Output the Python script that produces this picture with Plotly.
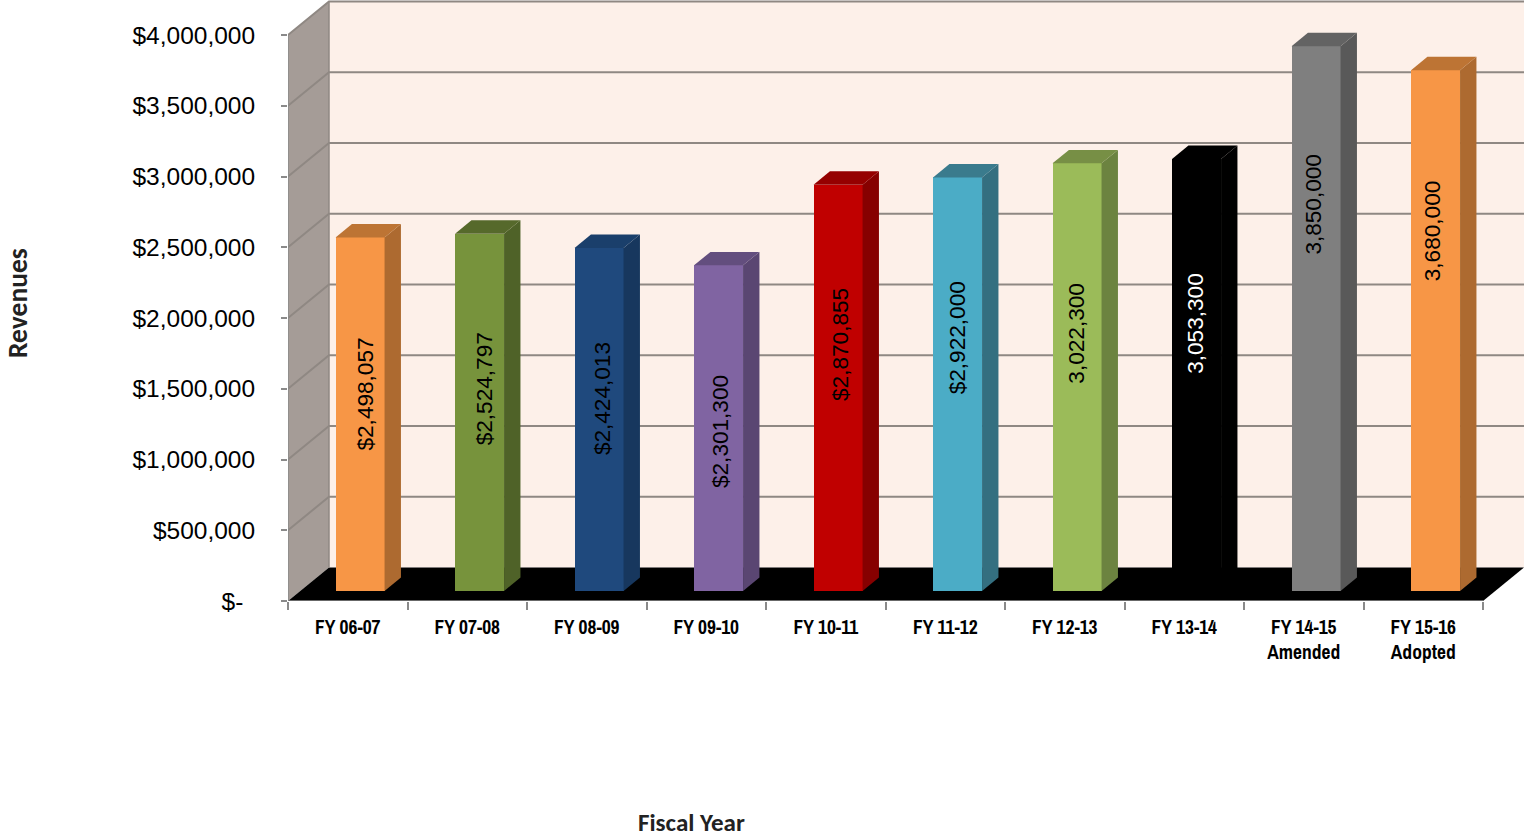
import plotly.graph_objects as go

# Fiscal-year revenue figures
categories = ["FY 06-07", "FY 07-08", "FY 08-09", "FY 09-10", "FY 10-11", "FY 11-12",
              "FY 12-13", "FY 13-14", "FY 14-15<br>Amended", "FY 15-16<br>Adopted"]
revenues = [2498057, 2524797, 2424013, 2301300, 2870855, 2922000, 3022300, 3053300, 3850000, 3680000]
value_labels = ["$2,498,057", "$2,524,797", "$2,424,013", "$2,301,300", "$2,870,855", "$2,922,000",
                "3,022,300", "3,053,300", "3,850,000", "3,680,000"]
axis_values = [0, 500000, 1000000, 1500000, 2000000, 2500000, 3000000, 3500000, 4000000]
axis_labels = ["$-\u00a0\u2009", "$500,000", "$1,000,000", "$1,500,000", "$2,000,000",
               "$2,500,000", "$3,000,000", "$3,500,000", "$4,000,000"]

# Bar colours: front face, side face, top face
face_colors = ["#F79646", "#77933C", "#1F497D", "#8064A2", "#C00000",
               "#4BACC6", "#9BBB59", "#000000", "#7F7F7F", "#F79646"]
side_colors = ["#AD6A30", "#4F6228", "#17375E", "#5A4672", "#860000",
               "#346F80", "#6C8340", "#000000", "#595959", "#AD6A30"]
top_colors = ["#BD7434", "#56692B", "#1A3F6B", "#634E7E", "#950000",
              "#3A7B8D", "#778F45", "#000000", "#636363", "#BD7434"]
label_colors = ["#000000"] * 7 + ["#FFFFFF"] + ["#000000"] * 2
# Distance from the top of each bar down to the start of its rotated label, in pixels
label_drop = [98, 97, 92, 108, 101, 102, 117, 112, 105, 108]

# Oblique projection used for the pseudo-3D box
W, H = 1525, 838
LEFT, BOTTOM_PX = 288, 601
CAT_PX = 119.5
UNITS_PER_PX = 4000000 / 566
DEPTH_X = 41 / CAT_PX
DEPTH_Y = 33.5 * UNITS_PER_PX
BAR_FRONT, BAR_BACK = 0.3, 0.7
BAR_WIDTH = 49 / CAT_PX
N = len(categories)

WALL = "#FDF0E9"
SIDE_WALL = "#A59C97"
GRID = "#8F8883"
AXIS = "#8A8A8A"
TEXT = "#000000"
NARROW = "Archivo Narrow, Roboto Condensed, Liberation Sans"
TITLE = "Carlito, Noto Sans"


def project(x, v, d):
    return x + d * DEPTH_X, v + d * DEPTH_Y


def path(points):
    return "M " + " L ".join(f"{x},{y}" for x, y in points) + " Z"


def area(points, color):
    return dict(type="path", xref="x", yref="y", layer="below", path=path(points),
                fillcolor=color, line=dict(width=0))


top_value = axis_values[-1]
shapes = [
    area([project(0, 0, 1), project(N, 0, 1), project(N, top_value, 1), project(0, top_value, 1)], WALL),
    area([project(0, 0, 0), project(0, 0, 1), project(0, top_value, 1), project(0, top_value, 0)], SIDE_WALL),
    area([project(0, 0, 0), project(N, 0, 0), project(N, 0, 1), project(0, 0, 1)], "#000000"),
]
for v in axis_values[1:]:
    a, b, c = project(0, v, 0), project(0, v, 1), project(N, v, 1)
    shapes.append(dict(type="path", xref="x", yref="y", layer="below",
                       path=f"M {a[0]},{a[1]} L {b[0]},{b[1]} L {c[0]},{c[1]}",
                       line=dict(color=GRID, width=2)))
a, b = project(0, 0, 1), project(0, top_value, 1)
shapes.append(dict(type="line", xref="x", yref="y", layer="below", x0=a[0], y0=a[1], x1=b[0], y1=b[1],
                   line=dict(color=GRID, width=1.5)))

fig = go.Figure()

centres = [i + 0.5 for i in range(N)]
fig.add_trace(go.Bar(
    x=[project(c, 0, BAR_FRONT)[0] for c in centres],
    y=revenues,
    base=[BAR_FRONT * DEPTH_Y] * N,
    width=BAR_WIDTH,
    marker=dict(color=face_colors, line=dict(width=0)),
    showlegend=False,
    hoverinfo="skip",
))

# Side and top faces of each bar
for c, v, side, top in zip(centres, revenues, side_colors, top_colors):
    l, r = c - BAR_WIDTH / 2, c + BAR_WIDTH / 2
    side_pts = [project(r, 0, BAR_FRONT), project(r, 0, BAR_BACK), project(r, v, BAR_BACK), project(r, v, BAR_FRONT)]
    top_pts = [project(l, v, BAR_FRONT), project(r, v, BAR_FRONT), project(r, v, BAR_BACK), project(l, v, BAR_BACK)]
    for pts, color in ((side_pts, side), (top_pts, top)):
        fig.add_trace(go.Scatter(
            x=[p[0] for p in pts] + [pts[0][0]],
            y=[p[1] for p in pts] + [pts[0][1]],
            mode="lines", fill="toself", fillcolor=color, line=dict(width=0),
            showlegend=False, hoverinfo="skip",
        ))

# Axis lines sit on the plot edge, so they are left unclipped
fig.add_trace(go.Scatter(x=[0, 0, N], y=[top_value, 0, 0], mode="lines", cliponaxis=False,
                         line=dict(color=AXIS, width=1.5), showlegend=False, hoverinfo="skip"))

annotations = []
for i, (c, v, text, color, drop) in enumerate(zip(centres, revenues, value_labels, label_colors, label_drop)):
    fx, fy = project(c, v, BAR_FRONT)
    annotations.append(dict(
        x=fx, y=fy, xref="x", yref="y", text=text, textangle=-90, showarrow=False,
        xanchor="center", yanchor="top", xshift=5.5 - 0.95 * i, yshift=-drop,
        font=dict(family="Liberation Sans", size=22.6, color=color),
    ))

plot_w, plot_h = W - LEFT, BOTTOM_PX
annotations.append(dict(
    x=(691 - LEFT) / plot_w, y=(BOTTOM_PX - 822.5) / plot_h, xref="paper", yref="paper",
    text="<b>Fiscal Year</b>", showarrow=False, xanchor="center", yanchor="middle",
    font=dict(family=TITLE, size=25, color="#222222"),
))
annotations.append(dict(
    x=(17 - LEFT) / plot_w, y=(BOTTOM_PX - 303) / plot_h, xref="paper", yref="paper",
    text="<b>Revenues</b>", textangle=-90, showarrow=False, xanchor="center", yanchor="middle",
    font=dict(family=TITLE, size=27.5, color="#222222"),
))

fig.update_layout(
    width=W, height=H, autosize=False,
    margin=dict(l=LEFT, r=0, t=0, b=H - BOTTOM_PX, pad=0),
    paper_bgcolor="#FFFFFF", plot_bgcolor="#FFFFFF",
    shapes=shapes, annotations=annotations, bargap=0,
    xaxis=dict(
        range=[0, (W - LEFT) / CAT_PX], tickmode="array", tickvals=centres, ticktext=categories,
        showgrid=False, zeroline=False, showline=False, ticks="", ticklabelstandoff=12,
        tickangle=0,
        tickfont=dict(family=NARROW, size=19.5, color=TEXT, weight="bold"),
        minor=dict(tickmode="array", tickvals=list(range(N + 1)), ticks="outside", ticklen=8,
                   tickwidth=1.5, tickcolor=AXIS, showgrid=False),
    ),
    yaxis=dict(
        range=[0, BOTTOM_PX * UNITS_PER_PX], tickmode="array", tickvals=axis_values, ticktext=axis_labels,
        showgrid=False, zeroline=False, showline=False, ticks="outside", ticklen=6, tickwidth=1.5,
        tickcolor=AXIS, ticklabelstandoff=21,
        tickfont=dict(family="Liberation Sans", size=24.5, color=TEXT),
    ),
)

fig.write_html("out.html", config=dict(displayModeBar=False))
